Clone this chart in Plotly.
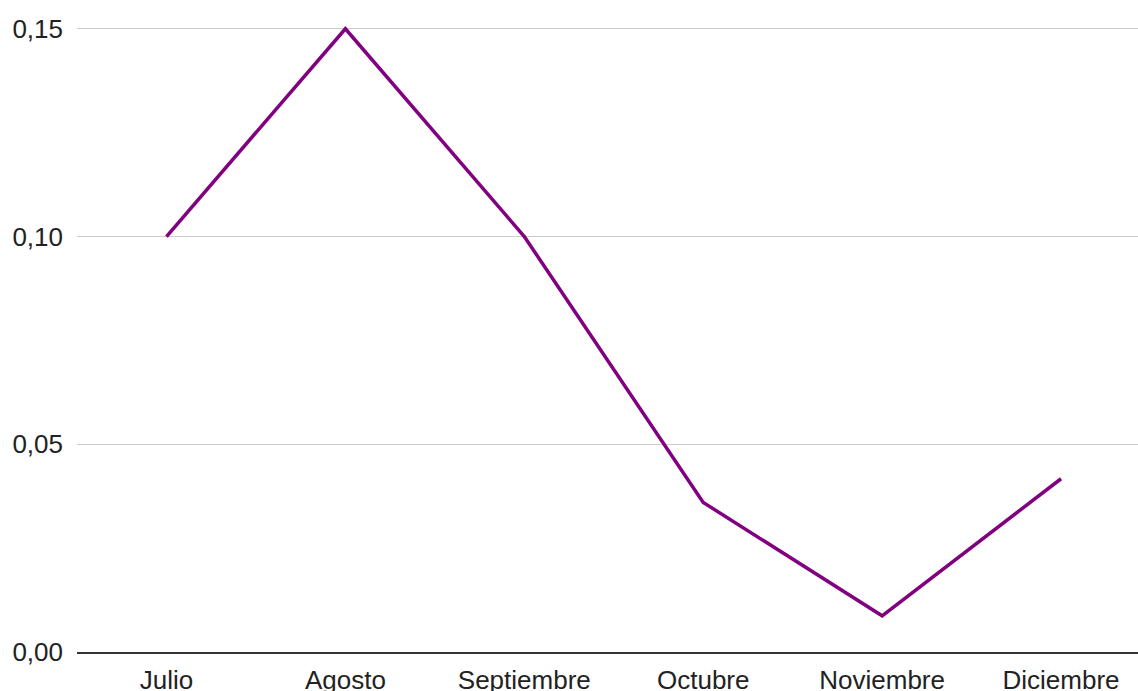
import plotly.graph_objects as go

months = ["Julio", "Agosto", "Septiembre", "Octubre", "Noviembre", "Diciembre"]
values = [0.100, 0.150, 0.100, 0.036, 0.0087, 0.0417]
y_ticks = [0.00, 0.05, 0.10, 0.15]

fig = go.Figure()
fig.add_trace(go.Scatter(
    x=months, y=values, mode="lines",
    line=dict(color="#800080", width=3.5),
    hoverinfo="x+y",
))

fig.update_layout(
    width=1138, height=691,
    margin=dict(l=77, r=0, t=8, b=39, autoexpand=False),
    paper_bgcolor="white", plot_bgcolor="white",
    separators=",.",
    showlegend=False,
    font=dict(family="Liberation Sans, Arial, sans-serif", size=26, color="#222222"),
)
fig.update_xaxes(
    range=[-0.5, 5.43],
    showgrid=False, zeroline=False,
    showline=True, linecolor="#333333", linewidth=2,
    ticks="", automargin=False, ticklabelstandoff=4,
    tickfont=dict(size=26, color="#222222"),
)
fig.update_yaxes(
    range=[0, 0.155],
    tickvals=y_ticks, tickformat=".2f",
    showgrid=True, gridcolor="#cccccc", gridwidth=1,
    zeroline=False, showline=False,
    ticks="", automargin=False, ticklabelstandoff=13,
    tickfont=dict(size=26, color="#222222"),
)

fig.write_html(
    "out.html",
    config={"displayModeBar": False},
    post_script="document.body.style.margin='0';document.body.style.overflow='hidden';",
)
